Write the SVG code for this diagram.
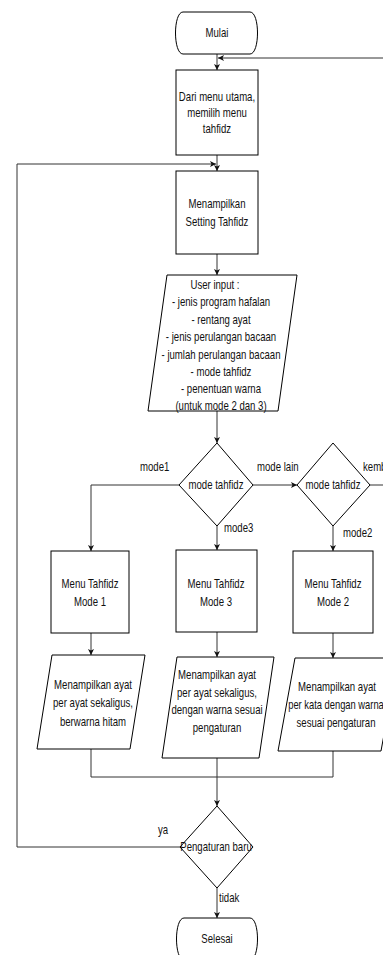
<svg xmlns="http://www.w3.org/2000/svg" width="383" height="955" viewBox="0 0 383 955">
<defs>
<marker id="arr" markerUnits="userSpaceOnUse" markerWidth="8" markerHeight="8" refX="6" refY="3" orient="auto">
<path d="M0,0 L6,3 L0,6 L1.5,3 z" fill="#111"/>
</marker>
<style>
.s{fill:#fff;stroke:#000;stroke-width:1}
.c{fill:none;stroke:#333;stroke-width:1}
text{font-family:"Liberation Sans",Arial,sans-serif;font-size:12px;fill:#111;text-anchor:middle}
.l{text-anchor:start}
</style>
</defs>
<rect width="383" height="955" fill="#fff"/>
<g id="connectors">
<path class="c" d="M217,54 V70" marker-end="url(#arr)"/>
<path class="c" d="M390,58 H218" marker-end="url(#arr)"/>
<path class="c" d="M217,155 V171" marker-end="url(#arr)"/>
<path class="c" d="M180,847 H17 V164 H216" marker-end="url(#arr)"/>
<path class="c" d="M217,254 V275" marker-end="url(#arr)"/>
<path class="c" d="M217,411 V443" marker-end="url(#arr)"/>
<path class="c" d="M179,485 H91 V551" marker-end="url(#arr)"/>
<path class="c" d="M217,526 V550" marker-end="url(#arr)"/>
<path class="c" d="M253,485 H297" marker-end="url(#arr)"/>
<path class="c" d="M333,526 V551" marker-end="url(#arr)"/>
<path class="c" d="M370,485 H390"/>
<path class="c" d="M91,633 V655" marker-end="url(#arr)"/>
<path class="c" d="M217,632 V657" marker-end="url(#arr)"/>
<path class="c" d="M333,633 V658" marker-end="url(#arr)"/>
<path class="c" d="M91,749 V777 H333 V751"/>
<path class="c" d="M217,758 V806" marker-end="url(#arr)"/>
<path class="c" d="M217,888 V918" marker-end="url(#arr)"/>
<text class="l" transform="translate(140,471) scale(0.8,1)">mode1</text>
<text class="l" transform="translate(257,471) scale(0.8,1)">mode lain</text>
<text class="l" transform="translate(363,471) scale(0.8,1)">kembali</text>
<text class="l" transform="translate(224,532) scale(0.8,1)">mode3</text>
<text class="l" transform="translate(343,537) scale(0.8,1)">mode2</text>
<text class="l" transform="translate(158,834) scale(0.8,1)">ya</text>
<text class="l" transform="translate(219,902) scale(0.8,1)">tidak</text>
</g>
<g id="mulai">
<path class="s" d="M183,12 H250 C260,12 260,54 250,54 H183 C173,54 173,12 183,12 Z"/>
<text transform="translate(217,37) scale(0.8,1)">Mulai</text>
</g>
<g id="dari-menu">
<rect class="s" x="176" y="70" width="82" height="85"/>
<text transform="translate(217,101) scale(0.8,1)">Dari menu utama,</text>
<text transform="translate(217,117) scale(0.8,1)">memilih menu</text>
<text transform="translate(217,133) scale(0.8,1)">tahfidz</text>
</g>
<g id="menampilkan-setting">
<rect class="s" x="176" y="171" width="82" height="83"/>
<text transform="translate(217,208) scale(0.8,1)">Menampilkan</text>
<text transform="translate(217,226) scale(0.8,1)">Setting Tahfidz</text>
</g>
<g id="user-input">
<path class="s" d="M167,275 H297 L278,411 H148 Z"/>
<text transform="translate(215,289) scale(0.8,1)">User input :</text>
<text transform="translate(221,306) scale(0.8,1)">- jenis program hafalan</text>
<text transform="translate(221,324) scale(0.8,1)">- rentang ayat</text>
<text transform="translate(221,341) scale(0.8,1)">- jenis perulangan bacaan</text>
<text transform="translate(221,359) scale(0.8,1)">- jumlah perulangan bacaan</text>
<text transform="translate(221,376) scale(0.8,1)">- mode tahfidz</text>
<text transform="translate(221,393) scale(0.8,1)">- penentuan warna</text>
<text transform="translate(221,410) scale(0.8,1)">(untuk mode 2 dan 3)</text>
</g>
<g id="mode-tahfidz-1">
<path class="s" d="M217,443 L253,485 L217,526 L179,485 Z"/>
<text transform="translate(216,489) scale(0.8,1)">mode tahfidz</text>
</g>
<g id="mode-tahfidz-2">
<path class="s" d="M333,443 L370,485 L333,526 L297,485 Z"/>
<text transform="translate(333,489) scale(0.8,1)">mode tahfidz</text>
</g>
<g id="menu-mode-1">
<rect class="s" x="51" y="551" width="78" height="82"/>
<text transform="translate(90,588) scale(0.8,1)">Menu Tahfidz</text>
<text transform="translate(90,606) scale(0.8,1)">Mode 1</text>
</g>
<g id="menu-mode-3">
<rect class="s" x="176" y="550" width="81" height="82"/>
<text transform="translate(216,588) scale(0.8,1)">Menu Tahfidz</text>
<text transform="translate(216,606) scale(0.8,1)">Mode 3</text>
</g>
<g id="menu-mode-2">
<rect class="s" x="293" y="551" width="80" height="82"/>
<text transform="translate(333,588) scale(0.8,1)">Menu Tahfidz</text>
<text transform="translate(333,606) scale(0.8,1)">Mode 2</text>
</g>
<g id="tampil-mode-1">
<path class="s" d="M52,655 H145 L130,749 H37 Z"/>
<text transform="translate(93,689) scale(0.8,1)">Menampilkan ayat</text>
<text transform="translate(93,707) scale(0.8,1)">per ayat sekaligus,</text>
<text transform="translate(93,726) scale(0.8,1)">berwarna hitam</text>
</g>
<g id="tampil-mode-3">
<path class="s" d="M177,657 H274 L259,758 H162 Z"/>
<text transform="translate(217,679) scale(0.8,1)">Menampilkan ayat</text>
<text transform="translate(217,697) scale(0.8,1)">per ayat sekaligus,</text>
<text transform="translate(217,714) scale(0.8,1)">dengan warna sesuai</text>
<text transform="translate(217,732) scale(0.8,1)">pengaturan</text>
</g>
<g id="tampil-mode-2">
<path class="s" d="M295,658 H398 L381,751 H278 Z"/>
<text transform="translate(337,691) scale(0.8,1)">Menampilkan ayat</text>
<text transform="translate(336,709) scale(0.78,1)">per kata dengan warna</text>
<text transform="translate(336,727) scale(0.8,1)">sesuai pengaturan</text>
</g>
<g id="pengaturan-baru">
<path class="s" d="M217,806 L253,847 L217,888 L180,847 Z"/>
<text transform="translate(216,851) scale(0.8,1)">Pengaturan baru</text>
</g>
<g id="selesai">
<path class="s" d="M184,918 H250 C260,918 260,960 250,960 H184 C174,960 174,918 184,918 Z"/>
<text transform="translate(217,943) scale(0.8,1)">Selesai</text>
</g>
</svg>
